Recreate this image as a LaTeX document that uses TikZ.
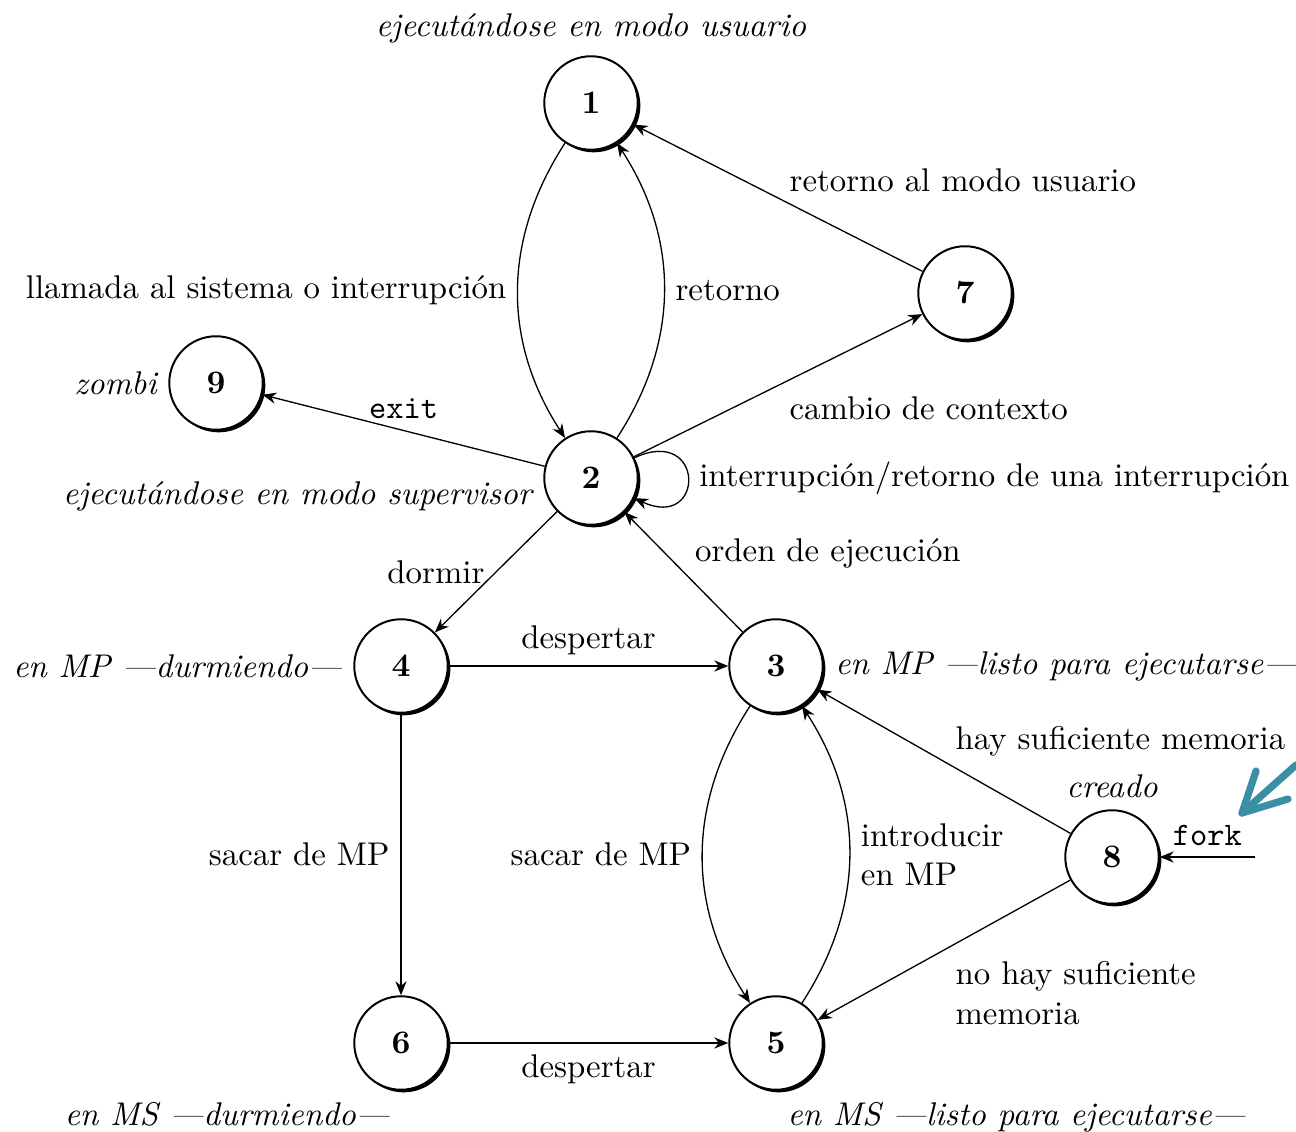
\documentclass[tikz,border=0pt]{standalone}
\usepackage{fontspec}
\usetikzlibrary{positioning,shadows,arrows.meta}

\tikzstyle{proc} = [circle, draw, fill=white, line width=0.6pt, minimum size=10mm, inner sep=0pt,
                    drop shadow={shadow xshift=0.8pt, shadow yshift=-0.8pt, opacity=1, fill=black}]
\tikzstyle{desc} = [font=\itshape]
\tikzstyle{hint} = [draw={rgb,255:red,58;green,143;blue,165}, line width=2.2pt, line cap=round, line join=round]

\begin{document}
\begin{tikzpicture}[x=0.107mm, y=0.107mm, >={Stealth[length=1.5mm,width=1.2mm]}]
\useasboundingbox (0,0) rectangle (1296,1131);

\node[proc] (n1) at (591,1028) {\textbf{1}};
\node[proc] (n2) at (591,653)  {\textbf{2}};
\node[proc] (n7) at (965,838)  {\textbf{7}};
\node[proc] (n9) at (216,748)  {\textbf{9}};
\node[proc] (n4) at (401,465)  {\textbf{4}};
\node[proc] (n3) at (776,465)  {\textbf{3}};
\node[proc] (n8) at (1112,274) {\textbf{8}};
\node[proc] (n6) at (401,88)   {\textbf{6}};
\node[proc] (n5) at (776,88)   {\textbf{5}};
\coordinate (fork) at (1255,274);

\node[desc, above=0pt of n1] (t1) {ejecutándose en modo usuario};
\node[desc, left=0pt of n2, yshift=-2mm] (t2) {ejecutándose en modo supervisor};
\node[desc, left=0pt of n9] (t9) {zombi};
\node[desc, left=0pt of n4] (t4) {en MP ---durmiendo---};
\node[desc, right=0pt of n3] (t3) {en MP ---listo para ejecutarse---};
\node[desc, above=0pt of n8] (t8) {creado};
\node[desc, below left=0pt of n6.south] (t6) {en MS ---durmiendo---};
\node[desc, below right=0pt of n5.south] (t5) {en MS ---listo para ejecutarse---};

\draw[->] (n1) to[bend right=33] node[left] {llamada al sistema o interrupción} (n2);
\draw[->] (n2) to[bend right=33] node[right] {retorno} (n1);
\draw[->] (n7) -- node[above right, yshift=-0.6mm] {retorno al modo usuario} (n1);
\draw[->] (n2) -- node[below right] {cambio de contexto} (n7);
\draw[->] (n2) -- node[above] {\texttt{exit}} (n9);
\draw[->] (n2) to[out=25, in=-25, looseness=5] node[right] {interrupción/retorno de una interrupción} (n2);
\draw[->] (n3) -- node[above right, yshift=-0.8mm] {orden de ejecución} (n2);
\draw[->] (n2) -- node[left] {dormir} (n4);
\draw[->] (n4) -- node[above] {despertar} (n3);
\draw[->] (n4) -- node[left] {sacar de MP} (n6);
\draw[->] (n6) -- node[below] {despertar} (n5);
\draw[->] (n3) to[bend right=33] node[left] {sacar de MP} (n5);
\draw[->] (n5) to[bend right=33] node[right, align=left] {introducir\\en MP} (n3);
\draw[->] (n8) -- node[above right, yshift=-0.7mm] {hay suficiente memoria} (n3);
\draw[->] (n8) -- node[below right, align=left] {no hay suficiente\\memoria} (n5);
\draw[->] (fork) -- node[above] {\texttt{fork}} (n8);

\coordinate (hintA) at (1296,366);
\coordinate (hintB) at (1242,318);
\draw[hint] (hintA) -- (hintB);
\draw[hint] ([shift={(14,42)}]hintB) -- (hintB) -- ([shift={(46,14)}]hintB);
\end{tikzpicture}
\end{document}
